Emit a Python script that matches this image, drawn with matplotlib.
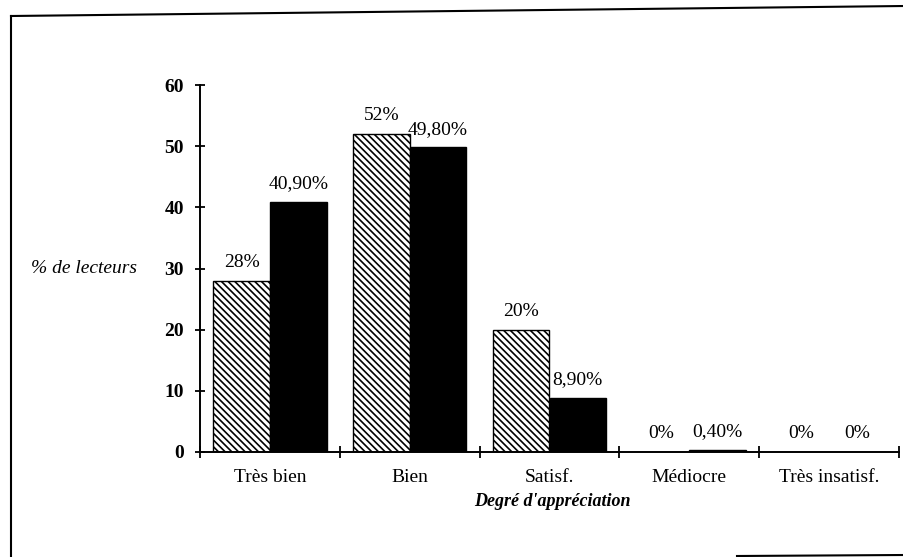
import matplotlib
matplotlib.use("Agg")
import matplotlib.pyplot as plt
from matplotlib.lines import Line2D
import numpy as np

categories = ["Très bien", "Bien", "Satisf.", "Médiocre", "Très insatisf."]
hatched_values = [28, 52, 20, 0, 0]
black_values = [40.9, 49.8, 8.9, 0.4, 0]
hatched_labels = ["28%", "52%", "20%", "0%", "0%"]
black_labels = ["40,90%", "49,80%", "8,90%", "0,40%", "0%"]
y_ticks = [0, 10, 20, 30, 40, 50, 60]

plt.rcParams['font.family'] = ['Liberation Serif', 'DejaVu Serif']
plt.rcParams['hatch.linewidth'] = 1.2

W, H = 904, 557
fig = plt.figure(figsize=(W / 100, H / 100), dpi=100)
ax = fig.add_axes([200 / W, (H - 452) / H, (899 - 200) / W, (452 - 85) / H])

x = np.arange(len(categories))
bw = 0.405
ax.bar(x - bw / 2, hatched_values, bw, facecolor='white', edgecolor='black',
       hatch='\\\\\\\\\\', linewidth=1.0)
ax.bar(x + bw / 2, black_values, bw, facecolor='black', edgecolor='black', linewidth=1.0)

for xi, v, s in zip(x, hatched_values, hatched_labels):
    ax.annotate(s, (xi - bw / 2, v), xytext=(0, 7), textcoords='offset points',
                ha='center', va='bottom', fontsize=14)
for xi, v, s in zip(x, black_values, black_labels):
    ax.annotate(s, (xi + bw / 2, v), xytext=(0, 7), textcoords='offset points',
                ha='center', va='bottom', fontsize=14)

ax.set_xlim(-0.5, len(categories) - 0.5)
ax.set_ylim(0, 60)
for sp in ['top', 'right']:
    ax.spines[sp].set_visible(False)
for sp in ['left', 'bottom']:
    ax.spines[sp].set_linewidth(1.4)

ax.set_yticks(y_ticks)
ax.set_yticklabels([str(t) for t in y_ticks], fontweight='bold', fontsize=14)
ax.tick_params(axis='y', direction='inout', length=7, width=1.3, pad=8)

ax.set_xticks(np.arange(len(categories) + 1) - 0.5)
ax.set_xticklabels([])
ax.tick_params(axis='x', which='major', direction='inout', length=8, width=1.3)
ax.set_xticks(x, minor=True)
ax.set_xticklabels(categories, minor=True, fontsize=14)
ax.tick_params(axis='x', which='minor', length=0, pad=12)

fig.text(84 / W, 1 - 268 / H, "% de lecteurs", style='italic', fontsize=14,
         ha='center', va='center')
fig.text(552 / W, 1 - 502 / H, "Degré d'appréciation", style='italic',
         fontweight='bold', fontsize=13, ha='center', va='center')

# border of the scanned frame
def fl(xs, ys):
    fig.add_artist(Line2D([a / W for a in xs], [1 - b / H for b in ys],
                          transform=fig.transFigure, color='black', linewidth=1.5))
fl([11, 904], [16, 6])
fl([11, 11], [16, 557])
fl([737, 904], [556, 555])

fig.savefig("out.png", dpi=100)
